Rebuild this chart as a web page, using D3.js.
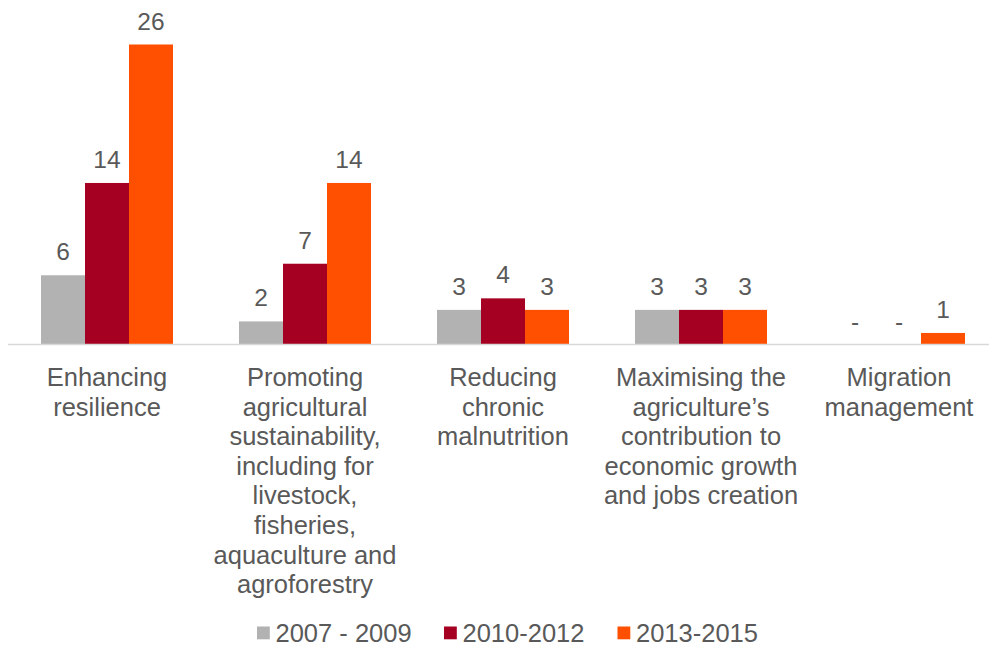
<!DOCTYPE html>
<html>
<head>
<meta charset="utf-8">
<script src="https://cdn.jsdelivr.net/npm/d3@7"></script>
<style>
  html, body { margin: 0; padding: 0; background: #ffffff; }
  svg { display: block; }
  text { font-family: "Liberation Sans", Arial, sans-serif; fill: #595959; }
</style>
</head>
<body>
<svg id="chart" width="989" height="648"></svg>
<script>
// Category labels, one entry per wrapped line
const categories = [
  ["Enhancing", "resilience"],
  ["Promoting", "agricultural", "sustainability,", "including for", "livestock,", "fisheries,", "aquaculture and", "agroforestry"],
  ["Reducing", "chronic", "malnutrition"],
  ["Maximising the", "agriculture\u2019s", "contribution to", "economic growth", "and jobs creation"],
  ["Migration", "management"]
];
const seriesNames = ["2007 - 2009", "2010-2012", "2013-2015"];
const seriesColors = ["#b2b2b2", "#a50021", "#ff4f00"];
const values2007 = [6, 2, 3, 3, 0];
const values2010 = [14, 7, 4, 3, 0];
const values2013 = [26, 14, 3, 3, 1];
const seriesValues = [values2007, values2010, values2013];

const svg = d3.select("#chart");
const baseline = 344.5;

const x = d3.scaleBand()
  .domain(d3.range(categories.length))
  .range([8, 998])
  .paddingInner(0)
  .paddingOuter(0);

const inner = d3.scaleBand()
  .domain(d3.range(seriesNames.length))
  .range([0, x.bandwidth()])
  .paddingOuter(0.75)
  .paddingInner(0);

const y = d3.scaleLinear().domain([0, 26]).range([baseline, baseline - 300]);

// Bars
const groups = svg.append("g").selectAll("g")
  .data(categories.map((c, i) => i))
  .join("g")
  .attr("transform", i => `translate(${x(i)},0)`);

groups.selectAll("rect")
  .data(i => seriesValues.map((vals, s) => ({ s, v: vals[i] })))
  .join("rect")
  .attr("x", d => inner(d.s))
  .attr("width", inner.bandwidth())
  .attr("y", d => y(d.v))
  .attr("height", d => y(0) - y(d.v))
  .attr("fill", d => seriesColors[d.s]);

// Value labels (zero shown as a dash)
groups.selectAll("text.val")
  .data(i => seriesValues.map((vals, s) => ({ s, v: vals[i] })))
  .join("text")
  .attr("class", "val")
  .attr("x", d => inner(d.s) + inner.bandwidth() / 2)
  .attr("y", d => y(d.v) - 15)
  .attr("text-anchor", "middle")
  .style("font-size", "24.5px")
  .text(d => d.v === 0 ? "-" : d.v);

// Category axis line
svg.append("line")
  .attr("x1", 8).attr("x2", 989)
  .attr("y1", baseline).attr("y2", baseline)
  .attr("stroke", "#d9d9d9")
  .attr("stroke-width", 1.5);

// Category labels
const lineHeight = 29.6;
groups.append("text")
  .attr("text-anchor", "middle")
  .style("font-size", "25.5px")
  .selectAll("tspan")
  .data(i => categories[i])
  .join("tspan")
  .attr("x", x.bandwidth() / 2)
  .attr("y", (d, k) => 386 + k * lineHeight)
  .text(d => d);

// Legend
const legendX = [257, 444, 617.5];
const legend = svg.append("g").selectAll("g")
  .data(seriesNames)
  .join("g")
  .attr("transform", (d, i) => `translate(${legendX[i]},0)`);
legend.append("rect")
  .attr("x", 0).attr("y", 626.5)
  .attr("width", 12.8).attr("height", 12.8)
  .attr("fill", (d, i) => seriesColors[i]);
legend.append("text")
  .attr("x", 18.5).attr("y", 642)
  .style("font-size", "25.5px")
  .text(d => d);
</script>
</body>
</html>
